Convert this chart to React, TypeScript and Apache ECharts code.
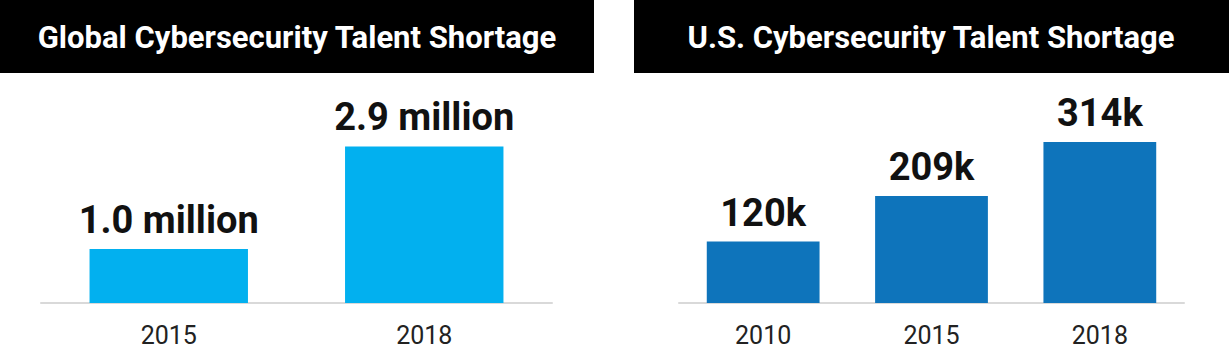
import React, { useEffect, useRef } from "react";
import * as echarts from "echarts";

const globalYears = ["2015", "2018"];
const globalValues = [1.0, 2.9];
const globalLabels = ["1.0 million", "2.9 million"];

const usYears = ["2010", "2015", "2018"];
const usValues = [120, 209, 314];
const usLabels = ["120k", "209k", "314k"];

const titles = ["Global Cybersecurity Talent Shortage", "U.S. Cybersecurity Talent Shortage"];

const FONT = "Roboto";

export default function App() {
  const ref = useRef<HTMLDivElement>(null);
  useEffect(() => {
    const chart = echarts.init(ref.current!, undefined, { renderer: "svg" });
    const axisX = (data: string[], idx: number) => ({
      type: "category",
      gridIndex: idx,
      data,
      axisLine: { show: true, lineStyle: { color: "#d9d9d9", width: 2 } },
      axisTick: { show: false },
      axisLabel: { color: "#222", fontSize: 25, fontFamily: FONT, margin: 20 },
    });
    const axisY = (idx: number, max: number) => ({
      type: "value",
      gridIndex: idx,
      min: 0,
      max,
      show: false,
      splitLine: { show: false },
    });
    const labelStyle = (labels: string[]) => ({
      show: true,
      position: "top",
      distance: 10,
      color: "#111",
      fontSize: 38,
      fontWeight: "bold",
      fontFamily: FONT,
      formatter: (p: any) => labels[p.dataIndex],
    });
    const titleText = (x: number, text: string) => ({
      type: "text",
      x,
      y: 37,
      style: {
        text,
        fill: "#fff",
        fontSize: 31,
        fontWeight: "bold",
        fontFamily: FONT,
        align: "center",
        verticalAlign: "middle",
      },
    });
    chart.setOption({
      animation: false,
      grid: [
        { left: 41, width: 511, top: 114, bottom: 61 },
        { left: 679, width: 505, top: 98, bottom: 61 },
      ],
      xAxis: [axisX(globalYears, 0), axisX(usYears, 1)],
      yAxis: [axisY(0, 3.5), axisY(1, 400)],
      series: [
        {
          type: "bar",
          xAxisIndex: 0,
          yAxisIndex: 0,
          data: globalValues,
          barWidth: "62%",
          itemStyle: { color: "#02b0ef" },
          label: labelStyle(globalLabels),
        },
        {
          type: "bar",
          xAxisIndex: 1,
          yAxisIndex: 1,
          data: usValues,
          barWidth: "67%",
          itemStyle: { color: "#0e74bb" },
          label: labelStyle(usLabels),
        },
      ],
      graphic: [
        { type: "rect", shape: { x: 0, y: 0, width: 594, height: 73 }, style: { fill: "#000" } },
        { type: "rect", shape: { x: 634, y: 0, width: 595, height: 73 }, style: { fill: "#000" } },
        titleText(297, titles[0]),
        titleText(931, titles[1]),
      ],
    });
    return () => chart.dispose();
  }, []);
  return (
    <div
      ref={ref}
      style={{ position: "fixed", left: 0, top: 0, width: 1229, height: 364, background: "#fff" }}
    />
  );
}
